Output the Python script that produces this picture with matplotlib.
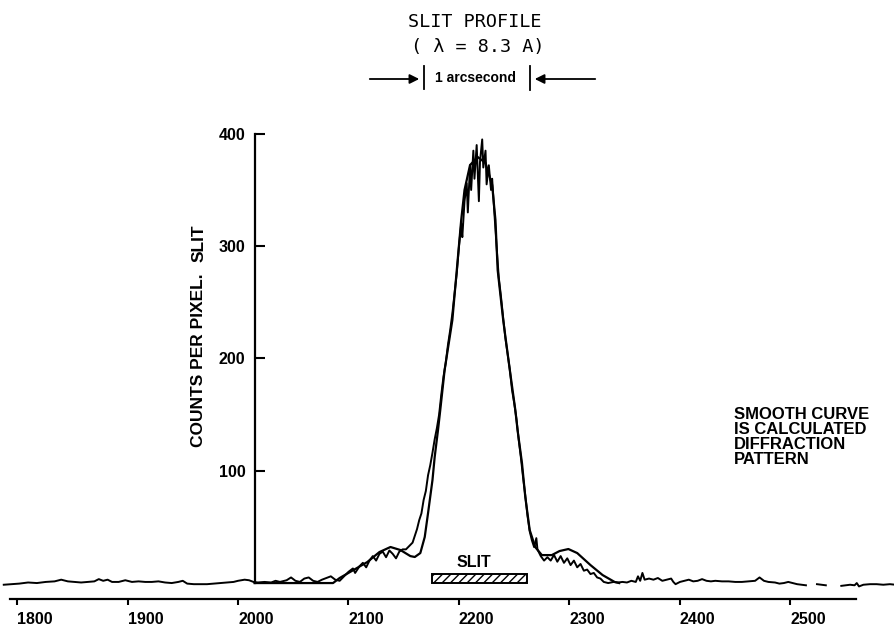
import numpy as np
import matplotlib.pyplot as plt
from matplotlib.patches import Rectangle

prof_x = [1788, 1795, 1802, 1810, 1818, 1826, 1834, 1840, 1846, 1852, 1858, 1864, 1870, 1874, 1878,
          1882, 1886, 1892, 1898, 1904, 1910, 1916, 1922, 1928, 1934, 1940, 1946, 1950, 1954, 1960,
          1966, 1972, 1978, 1984, 1990, 1996, 2000, 2006, 2010, 2014,
          2018, 2024, 2030, 2034, 2038, 2044, 2048, 2052, 2056, 2060, 2064, 2068, 2072, 2076, 2080,
          2084, 2088, 2092,
          2096, 2100, 2104, 2106, 2110, 2113, 2116, 2119, 2122, 2125, 2128, 2131, 2134, 2137, 2140,
          2143, 2146, 2149, 2152, 2155, 2158, 2160, 2162, 2164, 2166, 2168, 2170, 2172, 2174, 2176,
          2178, 2180, 2182, 2184, 2186, 2188, 2190, 2192, 2194, 2196, 2198, 2200, 2202, 2203, 2205,
          2207, 2208, 2210, 2211, 2213, 2214, 2216, 2218, 2219, 2221, 2222, 2224, 2225, 2227, 2229,
          2230, 2232, 2234, 2236, 2238, 2240, 2242, 2244, 2246, 2248, 2250, 2252, 2254, 2256, 2258,
          2260, 2262, 2264, 2266, 2268, 2270, 2271, 2274, 2277, 2280, 2283, 2286, 2289, 2292, 2295,
          2298, 2301, 2304, 2307, 2310, 2313, 2316, 2319, 2322, 2325, 2328, 2331, 2335, 2340, 2344,
          2348, 2352, 2356, 2360, 2362, 2364, 2366, 2368, 2372, 2376, 2380, 2384, 2388, 2392, 2394,
          2396, 2400, 2404, 2408, 2412, 2416, 2420, 2424, 2428, 2432, 2438, 2444, 2450, 2456, 2462,
          2468, 2472, 2476, 2480, 2486, 2490, 2494, 2498, 2502, 2506, 2510, 2514, 2519, 2524, 2528,
          2532, 2539, 2546, 2550, 2554, 2558, 2560, 2562, 2566, 2572, 2578, 2584, 2590, 2595]
prof_y = [-1.5, -1, -0.5, 0.5, 0, 1, 1.5, 3, 1.5, 1, 0.5, 1, 1.5, 3.5, 2,
          3, 1, 1, 2.5, 1, 1.5, 1, 1, 1.5, 0.5, 0, 1, 2, -0.5, -1,
          -1, -1, -0.5, 0, 0.5, 1, 2, 3, 2.5, 1,
          0.5, 1, 0.5, 2, 1, 2.5, 5, 2, 1, 4, 5, 2, 1, 3, 4.5,
          6, 3, 2,
          6, 10, 13, 9, 15, 18, 14, 20, 24, 20, 26, 28, 23, 29, 26,
          22, 28, 30, 30, 33, 36, 42, 48, 56, 62, 74, 82, 96, 105, 116,
          128, 138, 150, 168, 184, 196, 212, 225, 240, 258, 276, 300, 320, 308, 340,
          356, 330, 372, 350, 385, 360, 390, 340, 375, 395, 370, 385, 355, 372, 350,
          360, 330, 300, 272, 255, 236, 218, 204, 190, 172, 160, 146, 128, 112, 94,
          78, 60, 46, 38, 32, 40, 30, 24, 20, 23, 20, 25, 19, 24, 18,
          22, 16, 20, 14, 17, 11, 12, 8, 9, 5, 4, 1, 0, 1, 0.5,
          1, 0.5, 2, 1, 6, 2, 9, 3, 4, 3, 4.5, 2, 3, 4, 1,
          -1, 1, 2, 3, 1.5, 2, 3.5, 2, 1.5, 2, 1.5, 1.5, 1, 1, 1.5,
          2, 5, 2, 1, 0.5, -0.5, 0, 1, 0, -1, -1.5, -2, np.nan, -1, -1.5,
          -2, np.nan, -2.5, -2, -1.5, -2, 0, -3, -1.5, -1, -1, -1.5, -1, -1.5]

# calculated diffraction pattern (smooth curve)
smooth_x = [2015, 2086, 2092, 2117, 2128, 2138, 2147, 2156, 2160, 2165, 2169, 2172, 2176, 2178,
            2181, 2183, 2187, 2194, 2198, 2202, 2205, 2210, 2217, 2224, 2230, 2233, 2235, 2240,
            2246, 2251, 2253, 2257, 2260, 2264, 2269, 2275, 2284, 2291, 2299, 2307, 2319, 2330,
            2341, 2345]
smooth_y = [0, 0, 4.5, 18.7, 27.6, 32.1, 29.4, 24, 23.2, 26.7, 41, 62.3, 91.7, 112.2,
            136.2, 153.6, 189.7, 234.2, 278.7, 323.2, 350, 372.2, 379.3, 374, 354.4, 323.2, 278.7, 234.2,
            189.7, 154, 136.2, 106.9, 76.6, 47.2, 32, 24.9, 24.9, 28.5, 30.3, 26.7, 16, 7.1,
            0.9, 0]

slit_left = 2176
slit_right = 2262
slit_height = 8

x_ticks = [1800, 1900, 2000, 2100, 2200, 2300, 2400, 2500]
y_ticks = [100, 200, 300, 400]

W, H = 895, 626
fig = plt.figure(figsize=(W / 100, H / 100), dpi=100)
ax = fig.add_axes([0, 1 - 599 / H, 1, (599 - 130) / H])
ax.set_xlim(1784.6, 2594.6)
ax.set_ylim(-14.2, 403.4)

ax.plot(smooth_x, smooth_y, color='black', lw=1.6)
ax.plot(prof_x, prof_y, color='black', lw=1.4)

ax.add_patch(Rectangle((slit_left, 0), slit_right - slit_left, slit_height,
                       facecolor='white', edgecolor='black', hatch='////', lw=1.4))
ax.text((slit_left + slit_right) / 2 - 6, 18.7, 'SLIT', ha='center', va='center',
        fontsize=11.5, fontweight='bold', family='Liberation Sans')

for s in ['top', 'right']:
    ax.spines[s].set_visible(False)
ax.spines['left'].set_position(('data', 2015.4))
ax.spines['left'].set_bounds(0, 400)
ax.spines['bottom'].set_bounds(1794, 2559)
ax.spines['left'].set_linewidth(1.6)
ax.spines['bottom'].set_linewidth(1.6)

ax.set_xticks(x_ticks)
ax.set_xticklabels([str(v) for v in x_ticks], ha='left')
ax.set_yticks(y_ticks)
ax.tick_params(axis='x', direction='out', length=4, width=1.5, pad=5)
ax.tick_params(axis='y', direction='in', length=7, width=1.5, pad=7)
for lab in ax.get_xticklabels() + ax.get_yticklabels():
    lab.set_fontsize(11.5)
    lab.set_fontweight('bold')
    lab.set_family('Liberation Sans')

# axis label placed by hand, like the original drawing
fig.text(199 / W, 1 - 360 / H, 'COUNTS PER PIXEL.', rotation=90, ha='center', va='center',
         fontsize=12.5, fontweight='bold', family='Liberation Sans')
fig.text(199 / W, 1 - 243 / H, 'SLIT', rotation=90, ha='center', va='center',
         fontsize=12.5, fontweight='bold', family='Liberation Sans')

fig.text(475 / W, 1 - 22 / H, 'SLIT PROFILE', ha='center', va='center',
         fontsize=13.3, family='DejaVu Sans Mono')
fig.text(478 / W, 1 - 47 / H, '( λ = 8.3 A)', ha='center', va='center',
         fontsize=13.3, family='DejaVu Sans Mono')

# 1 arcsecond marker
fig.text(476 / W, 1 - 78 / H, '1 arcsecond', ha='center', va='center',
         fontsize=10, fontweight='bold', family='Liberation Sans')
ay = H - 79
ax.annotate('', xy=(422, ay), xytext=(367, ay), xycoords='figure pixels', textcoords='figure pixels',
            arrowprops=dict(arrowstyle='-|>', color='black', lw=1.3, mutation_scale=14))
ax.annotate('', xy=(532, ay), xytext=(598, ay), xycoords='figure pixels', textcoords='figure pixels',
            arrowprops=dict(arrowstyle='-|>', color='black', lw=1.3, mutation_scale=14))
fig.add_artist(plt.Line2D([424 / W, 424 / W], [1 - 66 / H, 1 - 89 / H], color='black', lw=1.3))
fig.add_artist(plt.Line2D([530 / W, 530 / W], [1 - 66 / H, 1 - 90 / H], color='black', lw=1.3))

fig.text(734 / W, 1 - 407 / H, 'SMOOTH CURVE\nIS CALCULATED\nDIFFRACTION\nPATTERN',
         ha='left', va='top', fontsize=12, fontweight='bold', family='Liberation Sans',
         linespacing=1.0)

fig.savefig('out.png', dpi=100)
